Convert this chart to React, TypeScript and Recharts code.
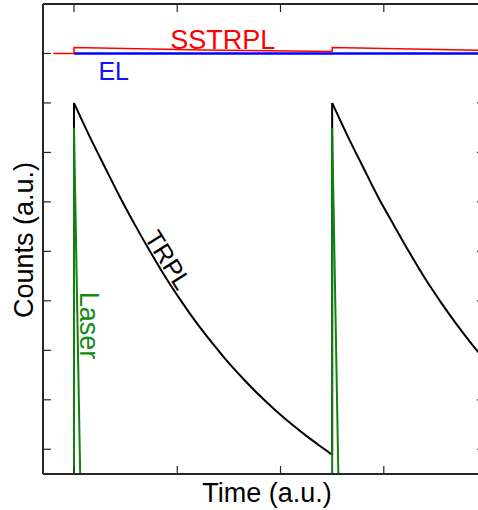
import { Label, Line, LineChart, ReferenceDot, XAxis, YAxis } from 'recharts';

const FONT = '"Liberation Sans", Arial, Helvetica, sans-serif';

const X_DOMAIN = [70, 498];
const Y_DOMAIN = [-0.5, 9];
const X_TICKS = [100, 200, 300, 400];
const Y_TICKS = [0, 1, 2, 3, 4, 5, 6, 7, 8, 9];

// time-resolved PL after each excitation pulse
const trplTime1 = [100, 115, 130, 145, 160, 175, 190, 205, 220, 235, 250, 265, 280, 295, 310, 325, 340, 350];
const trplCounts1 = [7.0, 6.33, 5.7, 5.08, 4.5, 3.95, 3.43, 2.96, 2.52, 2.12, 1.74, 1.4, 1.08, 0.79, 0.52, 0.27, 0.04, -0.11];
const trplTime2 = [350, 365, 380, 395, 410, 425, 440, 455, 470, 485, 498];
const trplCounts2 = [7.0, 6.33, 5.7, 5.08, 4.52, 3.97, 3.45, 2.98, 2.54, 2.13, 1.8];
// vertical rises of the TRPL trace at each pulse
const riseTime = [100, 100, 225, 350, 350];
const riseCounts = [-0.5, 7.0, null, -0.11, 7.0];

const laserTime = [100, 100, 106, 228, 350, 350, 356];
const laserCounts = [-0.5, 6.5, -0.5, null, -0.5, 6.5, -0.5];

const sstrplTime = [80, 100, 100, 225, 350, 350, 498];
const sstrplCounts = [8.0, 8.0, 8.12, 8.07, 8.04, 8.12, 8.06];

const elTime = [100, 498];
const elCounts = [8.0, 8.0];

const toPoints = (ts: number[], vs: (number | null)[]) => ts.map((t, i) => ({ t, v: vs[i] }));

const trplData1 = toPoints(trplTime1, trplCounts1);
const trplData2 = toPoints(trplTime2, trplCounts2);
const riseData = toPoints(riseTime, riseCounts);
const laserData = toPoints(laserTime, laserCounts);
const sstrplData = toPoints(sstrplTime, sstrplCounts);
const elData = toPoints(elTime, elCounts);

// series names placed next to their curves (data coordinates)
const SERIES_LABELS = [
    { text: 'SSTRPL', t: 244, v: 8.09, color: '#ff0000', angle: 0, size: 27 },
    { text: 'EL', t: 138.5, v: 7.47, color: '#1010ff', angle: 0, size: 25 },
    { text: 'TRPL', t: 184, v: 3.73, color: '#000000', angle: 58, size: 25 },
    { text: 'Laser', t: 105.8, v: 2.5, color: '#168a16', angle: 90, size: 27 },
];

const spine = { stroke: '#262626', strokeWidth: 2 };
const tickLine = { stroke: '#262626', strokeWidth: 1.2 };
const noTickLabel = () => <g />;

function seriesLabel(text: string, color: string, angle: number, size: number) {
    return (props: any) => {
        const vb = props.viewBox || {};
        const x = (vb.x ?? 0) + (vb.width ?? 0) / 2;
        const y = (vb.y ?? 0) + (vb.height ?? 0) / 2;
        return (
            <text
                x={x}
                y={y}
                fill={color}
                fontSize={size}
                fontFamily={FONT}
                textAnchor="middle"
                transform={angle ? `rotate(${angle} ${x} ${y})` : undefined}
            >
                {text}
            </text>
        );
    };
}

const timeTitle = (props: any) => {
    const vb = props.viewBox;
    return (
        <text x={vb.x + vb.width / 2 + 3} y={vb.y + 27.5} fontSize={27} fontFamily={FONT} fill="#000" textAnchor="middle">
            Time (a.u.)
        </text>
    );
};

const countsTitle = (props: any) => {
    const vb = props.viewBox;
    const x = 33;
    const y = vb.y + vb.height / 2 + 1;
    return (
        <text x={x} y={y} fontSize={27} fontFamily={FONT} fill="#000" textAnchor="middle" transform={`rotate(-90 ${x} ${y})`}>
            Counts (a.u.)
        </text>
    );
};

const common = { dataKey: 'v', dot: false, activeDot: false, isAnimationActive: false } as const;

export default function App() {
    return (
        <div style={{ position: 'absolute', left: 0, top: 0, width: 478, height: 510, overflow: 'hidden', background: '#fff' }}>
            <LineChart width={486} height={510} margin={{ top: 0, right: 0, bottom: 0, left: 0 }}>
                <XAxis
                    xAxisId={0}
                    dataKey="t"
                    type="number"
                    domain={X_DOMAIN}
                    ticks={X_TICKS}
                    interval={0}
                    allowDataOverflow
                    height={36}
                    tick={noTickLabel}
                    tickSize={-8}
                    axisLine={spine}
                    tickLine={tickLine}
                >
                    <Label content={timeTitle} />
                </XAxis>
                <XAxis
                    xAxisId="top"
                    orientation="top"
                    dataKey="t"
                    type="number"
                    domain={X_DOMAIN}
                    ticks={X_TICKS}
                    interval={0}
                    allowDataOverflow
                    height={4}
                    tick={noTickLabel}
                    tickSize={-8}
                    axisLine={spine}
                    tickLine={tickLine}
                />
                <YAxis
                    yAxisId={0}
                    type="number"
                    domain={Y_DOMAIN}
                    ticks={Y_TICKS}
                    interval={0}
                    allowDataOverflow
                    width={43}
                    tick={noTickLabel}
                    tickSize={-8}
                    axisLine={spine}
                    tickLine={tickLine}
                >
                    <Label content={countsTitle} />
                </YAxis>
                <YAxis
                    yAxisId="right"
                    orientation="right"
                    type="number"
                    domain={Y_DOMAIN}
                    ticks={Y_TICKS}
                    interval={0}
                    allowDataOverflow
                    width={1}
                    tick={noTickLabel}
                    tickSize={-8}
                    axisLine={spine}
                    tickLine={tickLine}
                />

                <Line {...common} data={elData} stroke="#0000ff" strokeWidth={2.5} />
                <Line {...common} data={sstrplData} stroke="#ff0000" strokeWidth={1.5} />
                <Line {...common} data={riseData} type="linear" stroke="#000000" strokeWidth={2} />
                <Line {...common} data={trplData1} type="monotone" stroke="#000000" strokeWidth={2} />
                <Line {...common} data={trplData2} type="monotone" stroke="#000000" strokeWidth={2} />
                <Line {...common} data={laserData} type="linear" stroke="#118011" strokeWidth={2} />

                {SERIES_LABELS.map((l) => (
                    <ReferenceDot key={l.text} x={l.t} y={l.v} r={0} fill="none" stroke="none" ifOverflow="visible">
                        <Label content={seriesLabel(l.text, l.color, l.angle, l.size)} />
                    </ReferenceDot>
                ))}
            </LineChart>
        </div>
    );
}
